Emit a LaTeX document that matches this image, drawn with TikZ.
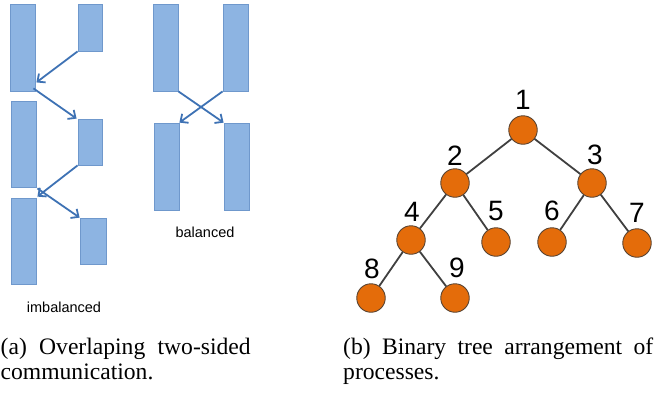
\documentclass[tikz,border=0pt]{standalone}
\usepackage{fontspec}
\setmainfont{Liberation Serif}
\newfontfamily\labelsans{Liberation Sans}
\usetikzlibrary{arrows.meta,calc}

\definecolor{barfill}{HTML}{8DB4E2}
\definecolor{barline}{HTML}{6F98CC}
\definecolor{msgline}{HTML}{3E72B4}
\definecolor{procfill}{HTML}{E46C0A}
\definecolor{procline}{HTML}{5A4432}
\definecolor{treeline}{HTML}{404040}

\tikzset{
  bar/.style={draw=barline, fill=barfill, line width=0.8pt, inner sep=0pt},
  msg/.style={draw=msgline, line width=1.8pt,
    -{Straight Barb[length=6pt,width=11pt,line width=1.8pt]}},
  proc/.style={circle, draw=procline, fill=procfill, line width=0.9pt,
    minimum size=28.5pt, inner sep=0pt},
  procnum/.style={font=\labelsans\fontsize{28}{30}\selectfont, inner sep=0pt},
  tag/.style={font=\labelsans\fontsize{14.5}{16}\selectfont, inner sep=0pt},
  treeedge/.style={draw=treeline, line width=1.8pt},
  capline/.style={font=\fontsize{23.6}{25}\selectfont, inner sep=0pt, anchor=base west},
}

\begin{document}
\begin{tikzpicture}[x=1pt, y=-1pt]
\useasboundingbox (0,0) rectangle (654,394);

% ---- imbalanced exchange ----
\node[bar, minimum width=25pt, minimum height=87pt] (L1) at (22.5,47.5) {};
\node[bar, minimum width=24pt, minimum height=47pt] (R1) at (90,27.5) {};
\node[bar, minimum width=25pt, minimum height=86pt] (L2) at (23.5,144) {};
\node[bar, minimum width=24pt, minimum height=46pt] (R2) at (90,142) {};
\node[bar, minimum width=25pt, minimum height=86pt] (L3) at (23.5,241) {};
\node[bar, minimum width=26pt, minimum height=46pt] (R3) at (93,241) {};

\draw[msg] (R1.south west) -- ($(L1.south east)+(1,-9)$);
\draw[msg] ($(L1.south east)+(-2,-3)$) -- ($(R2.north west)+(-1,0)$);
\draw[msg] (R2.south west) -- ($(L3.north east)+(1,-1)$);
\draw[msg] ($(L2.south east)+(1,1)$) -- (R3.north west);

\node[tag] (imb) at (64,307) {imbalanced};

% ---- balanced exchange ----
\node[bar, minimum width=25pt, minimum height=87pt] (BL1) at (165.5,47.5) {};
\node[bar, minimum width=25pt, minimum height=87pt] (BR1) at (235.5,47.5) {};
\node[bar, minimum width=25pt, minimum height=87pt] (BL2) at (166.5,166.5) {};
\node[bar, minimum width=25pt, minimum height=87pt] (BR2) at (236.5,166.5) {};

\draw[msg] (BL1.south east) -- (BR2.north west);
\draw[msg] (BR1.south west) -- (BL2.north east);

\node[tag] (bal) at (205,232) {balanced};

% ---- binary tree of processes ----
\node[proc] (p1) at (523,130) {};
\node[proc] (p2) at (455,183) {};
\node[proc] (p3) at (592,183) {};
\node[proc] (p4) at (411,240) {};
\node[proc] (p5) at (496,242) {};
\node[proc] (p6) at (552,242) {};
\node[proc] (p7) at (637,243) {};
\node[proc] (p8) at (371,298) {};
\node[proc] (p9) at (455,298) {};

\draw[treeedge] (p1) -- (p2);
\draw[treeedge] (p1) -- (p3);
\draw[treeedge] (p2) -- (p4);
\draw[treeedge] (p2) -- (p5);
\draw[treeedge] (p3) -- (p6);
\draw[treeedge] (p3) -- (p7);
\draw[treeedge] (p4) -- (p8);
\draw[treeedge] (p4) -- (p9);

\node[procnum] (n1) at (523,100) {1};
\node[procnum] (n2) at (455,156) {2};
\node[procnum] (n3) at (595,155) {3};
\node[procnum] (n4) at (412,212) {4};
\node[procnum] (n5) at (496,211) {5};
\node[procnum] (n6) at (552,211) {6};
\node[procnum] (n7) at (637,213) {7};
\node[procnum] (n8) at (372,269) {8};
\node[procnum] (n9) at (457,268) {9};

% ---- sub-captions ----
\node[capline] (capa1) at (0.5,354.5) {\makebox[250pt][s]{(a) Overlaping two-sided}};
\node[capline] (capa2) at (0.5,379.5) {communication.};
\node[capline] (capb1) at (343,354.5) {\makebox[310pt][s]{(b) Binary tree arrangement of}};
\node[capline] (capb2) at (343,379.5) {processes.};
\end{tikzpicture}
\end{document}
